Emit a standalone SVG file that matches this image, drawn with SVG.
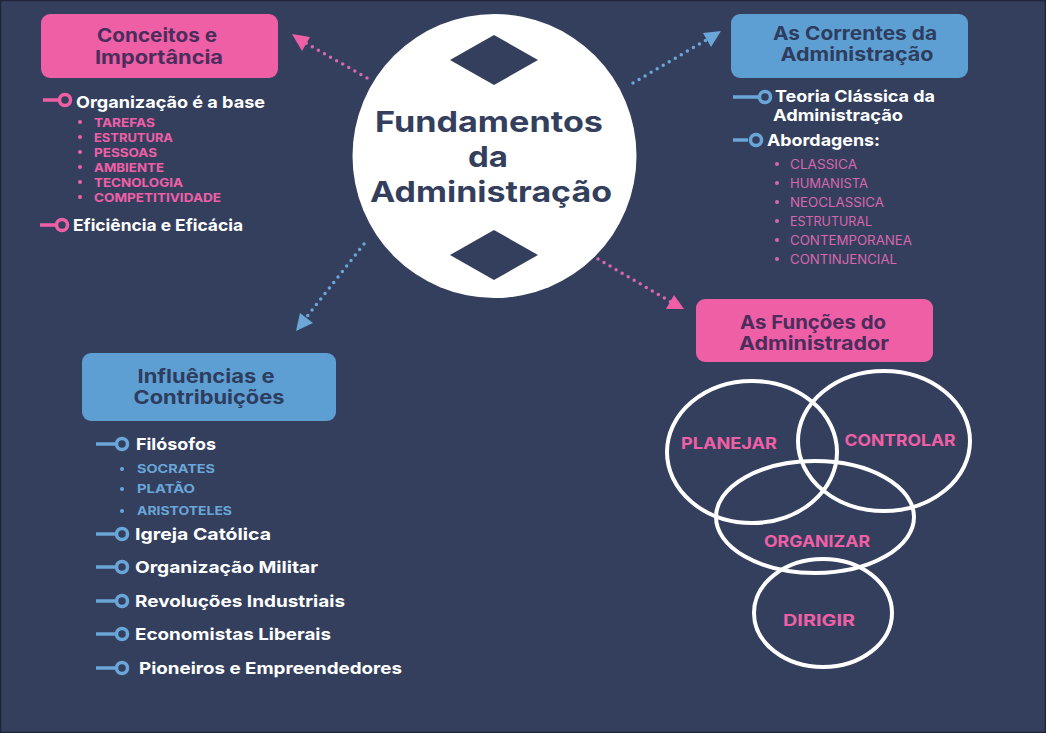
<svg xmlns="http://www.w3.org/2000/svg" width="1046" height="733" viewBox="0 0 1046 733">
<defs>
<style>
.t{font-family:Inter,"Liberation Sans",sans-serif;font-weight:700}
.hp{fill:#4b2d5c;font-size:19px;text-anchor:middle}
.hb{fill:#2e3c5e;font-size:19px;text-anchor:middle}
.item{fill:#ffffff;font-size:16.5px}
.sp{fill:#ef5fa6;font-size:12px}
.sb{fill:#6aa6d8;font-size:12px}
.sr{fill:#d868ac;font-size:12.5px;font-weight:400}
.venn{fill:none;stroke:#ffffff;stroke-width:4}
.vl{fill:#ef5fa6;font-size:16px;text-anchor:middle}
.dp{stroke:#d868ac;stroke-width:3.5;stroke-linecap:round;stroke-dasharray:0 7;fill:none}
.db{stroke:#6aa6d8;stroke-width:3.5;stroke-linecap:round;stroke-dasharray:0 7;fill:none}
.ip{stroke:#ef5fa6;stroke-width:3.5;fill:none}
.ib{stroke:#6aa6d8;stroke-width:3.5;fill:none}
</style>
</defs>
<rect x="0" y="0" width="1046" height="733" fill="#343f5e"/>
<rect x="0.5" y="0.5" width="1045" height="732" fill="none" stroke="#1e2538" stroke-width="1.5"/>

<g id="connectors">
<line class="dp" x1="367" y1="78" x2="304" y2="42"/>
<polygon points="292,34 310,37 302,51" fill="#ef5fa6"/>
<line class="db" x1="633" y1="83" x2="708" y2="39"/>
<polygon points="721,31 703,33 711,47" fill="#6aa6d8"/>
<line class="db" x1="364" y1="244" x2="305" y2="319"/>
<polygon points="296,331 300,313 313,323" fill="#6aa6d8"/>
<line class="dp" x1="598" y1="259" x2="671" y2="302"/>
<polygon points="684,309 666,309 674,295" fill="#ef5fa6"/>
</g>

<g id="center">
<circle cx="494.5" cy="156" r="142" fill="#ffffff"/>
<polygon points="450,60 494,35 538,60 494,85" fill="#343f5e"/>
<polygon points="450,255 494,230 538,255 494,280" fill="#343f5e"/>
<text class="t" x="489" y="132" font-size="29" fill="#343f5e" text-anchor="middle" textLength="228" lengthAdjust="spacingAndGlyphs">Fundamentos</text>
<text class="t" x="488" y="167" font-size="29" fill="#343f5e" text-anchor="middle" textLength="40" lengthAdjust="spacingAndGlyphs">da</text>
<text class="t" x="491" y="202" font-size="29" fill="#343f5e" text-anchor="middle" textLength="242" lengthAdjust="spacingAndGlyphs">Administração</text>
</g>

<g id="conceitos">
<rect x="41" y="14" width="237" height="64" rx="9" fill="#ef5fa6"/>
<text class="t hp" x="157" y="42" textLength="120" lengthAdjust="spacingAndGlyphs">Conceitos e</text>
<text class="t hp" x="159" y="64" textLength="128" lengthAdjust="spacingAndGlyphs">Importância</text>
<line class="ip" x1="43" y1="100" x2="58" y2="100"/>
<circle class="ip" cx="65" cy="100" r="5.5"/>
<text class="t item" x="76" y="108" textLength="189" lengthAdjust="spacingAndGlyphs">Organização é a base</text>
<g class="t sp">
<circle cx="80" cy="122" r="2"/><text x="94" y="126.5" textLength="61" lengthAdjust="spacingAndGlyphs">TAREFAS</text>
<circle cx="80" cy="137" r="2"/><text x="94" y="141.5" textLength="79" lengthAdjust="spacingAndGlyphs">ESTRUTURA</text>
<circle cx="80" cy="152" r="2"/><text x="94" y="156.5" textLength="63" lengthAdjust="spacingAndGlyphs">PESSOAS</text>
<circle cx="80" cy="167" r="2"/><text x="94" y="171.5" textLength="70" lengthAdjust="spacingAndGlyphs">AMBIENTE</text>
<circle cx="80" cy="182" r="2"/><text x="94" y="186.5" textLength="89" lengthAdjust="spacingAndGlyphs">TECNOLOGIA</text>
<circle cx="80" cy="197" r="2"/><text x="94" y="201.5" textLength="127" lengthAdjust="spacingAndGlyphs">COMPETITIVIDADE</text>
</g>
<line class="ip" x1="40" y1="225" x2="55" y2="225"/>
<circle class="ip" cx="62" cy="225" r="5.5"/>
<text class="t item" x="73" y="231" textLength="170" lengthAdjust="spacingAndGlyphs">Eficiência e Eficácia</text>
</g>

<g id="correntes">
<rect x="731" y="14" width="237" height="64" rx="9" fill="#5e9fd3"/>
<text class="t hb" x="855" y="40" textLength="164" lengthAdjust="spacingAndGlyphs">As Correntes da</text>
<text class="t hb" x="857" y="61" textLength="153" lengthAdjust="spacingAndGlyphs">Administração</text>
<line class="ib" x1="733" y1="97" x2="758" y2="97"/>
<circle class="ib" cx="765" cy="97" r="5.5"/>
<text class="t item" x="775" y="102" font-size="15px" textLength="160" lengthAdjust="spacingAndGlyphs">Teoria Clássica da</text>
<text class="t item" x="773" y="121" font-size="15px" textLength="130" lengthAdjust="spacingAndGlyphs">Administração</text>
<line class="ib" x1="733" y1="140" x2="748" y2="140"/>
<circle class="ib" cx="756" cy="140" r="5.5"/>
<text class="t item" x="767" y="146" textLength="113" lengthAdjust="spacingAndGlyphs">Abordagens:</text>
<g class="t sr">
<circle cx="777" cy="164" r="2"/><text x="790" y="169" textLength="67" lengthAdjust="spacingAndGlyphs">CLASSICA</text>
<circle cx="777" cy="183" r="2"/><text x="790" y="188" textLength="78" lengthAdjust="spacingAndGlyphs">HUMANISTA</text>
<circle cx="777" cy="202" r="2"/><text x="790" y="207" textLength="94" lengthAdjust="spacingAndGlyphs">NEOCLASSICA</text>
<circle cx="777" cy="221" r="2"/><text x="790" y="226" textLength="82" lengthAdjust="spacingAndGlyphs">ESTRUTURAL</text>
<circle cx="777" cy="240" r="2"/><text x="790" y="245" textLength="122" lengthAdjust="spacingAndGlyphs">CONTEMPORANEA</text>
<circle cx="777" cy="259" r="2"/><text x="790" y="264" textLength="107" lengthAdjust="spacingAndGlyphs">CONTINJENCIAL</text>
</g>
</g>

<g id="funcoes">
<rect x="696" y="299" width="237" height="63" rx="9" fill="#ef5fa6"/>
<text class="t hp" x="813" y="329" font-size="17px" textLength="146" lengthAdjust="spacingAndGlyphs">As Funções do</text>
<text class="t hp" x="814" y="350" font-size="17px" textLength="150" lengthAdjust="spacingAndGlyphs">Administrador</text>
</g>

<g id="venn">
<ellipse class="venn" cx="752" cy="452" rx="85" ry="71"/>
<ellipse class="venn" cx="884" cy="441" rx="86" ry="70"/>
<ellipse class="venn" cx="815" cy="517" rx="99" ry="56"/>
<ellipse class="venn" cx="823" cy="613" rx="69" ry="54"/>
<text class="t vl" x="729" y="449" textLength="96" lengthAdjust="spacingAndGlyphs">PLANEJAR</text>
<text class="t vl" x="900" y="446" textLength="111" lengthAdjust="spacingAndGlyphs">CONTROLAR</text>
<text class="t vl" x="817" y="547" textLength="106" lengthAdjust="spacingAndGlyphs">ORGANIZAR</text>
<text class="t vl" x="819" y="626" textLength="72" lengthAdjust="spacingAndGlyphs">DIRIGIR</text>
</g>

<g id="influencias">
<rect x="82" y="353" width="254" height="68" rx="9" fill="#5e9fd3"/>
<text class="t hb" x="206" y="382.5" font-size="17px" textLength="137" lengthAdjust="spacingAndGlyphs">Influências e</text>
<text class="t hb" x="209" y="404" font-size="17px" textLength="151" lengthAdjust="spacingAndGlyphs">Contribuições</text>
<line class="ib" x1="96" y1="444" x2="115" y2="444"/>
<circle class="ib" cx="122" cy="444" r="5.5"/>
<text class="t item" x="136" y="450" textLength="80" lengthAdjust="spacingAndGlyphs">Filósofos</text>
<g class="t sb">
<circle cx="122" cy="469" r="2"/><text x="137" y="473" textLength="78" lengthAdjust="spacingAndGlyphs">SOCRATES</text>
<circle cx="122" cy="489" r="2"/><text x="137" y="493" textLength="58" lengthAdjust="spacingAndGlyphs">PLATÃO</text>
<circle cx="122" cy="511" r="2"/><text x="137" y="515" textLength="95" lengthAdjust="spacingAndGlyphs">ARISTOTELES</text>
</g>
<line class="ib" x1="96" y1="534" x2="115" y2="534"/>
<circle class="ib" cx="122" cy="534" r="5.5"/>
<text class="t item" x="135" y="540" textLength="136" lengthAdjust="spacingAndGlyphs">Igreja Católica</text>
<line class="ib" x1="96" y1="567" x2="115" y2="567"/>
<circle class="ib" cx="122" cy="567" r="5.5"/>
<text class="t item" x="135" y="573" textLength="183" lengthAdjust="spacingAndGlyphs">Organização Militar</text>
<line class="ib" x1="96" y1="601" x2="115" y2="601"/>
<circle class="ib" cx="122" cy="601" r="5.5"/>
<text class="t item" x="135" y="607" textLength="210" lengthAdjust="spacingAndGlyphs">Revoluções Industriais</text>
<line class="ib" x1="96" y1="634" x2="115" y2="634"/>
<circle class="ib" cx="122" cy="634" r="5.5"/>
<text class="t item" x="135" y="640" textLength="196" lengthAdjust="spacingAndGlyphs">Economistas Liberais</text>
<line class="ib" x1="96" y1="668" x2="115" y2="668"/>
<circle class="ib" cx="122" cy="668" r="5.5"/>
<text class="t item" x="139" y="674" textLength="263" lengthAdjust="spacingAndGlyphs">Pioneiros e Empreendedores</text>
</g>
</svg>
